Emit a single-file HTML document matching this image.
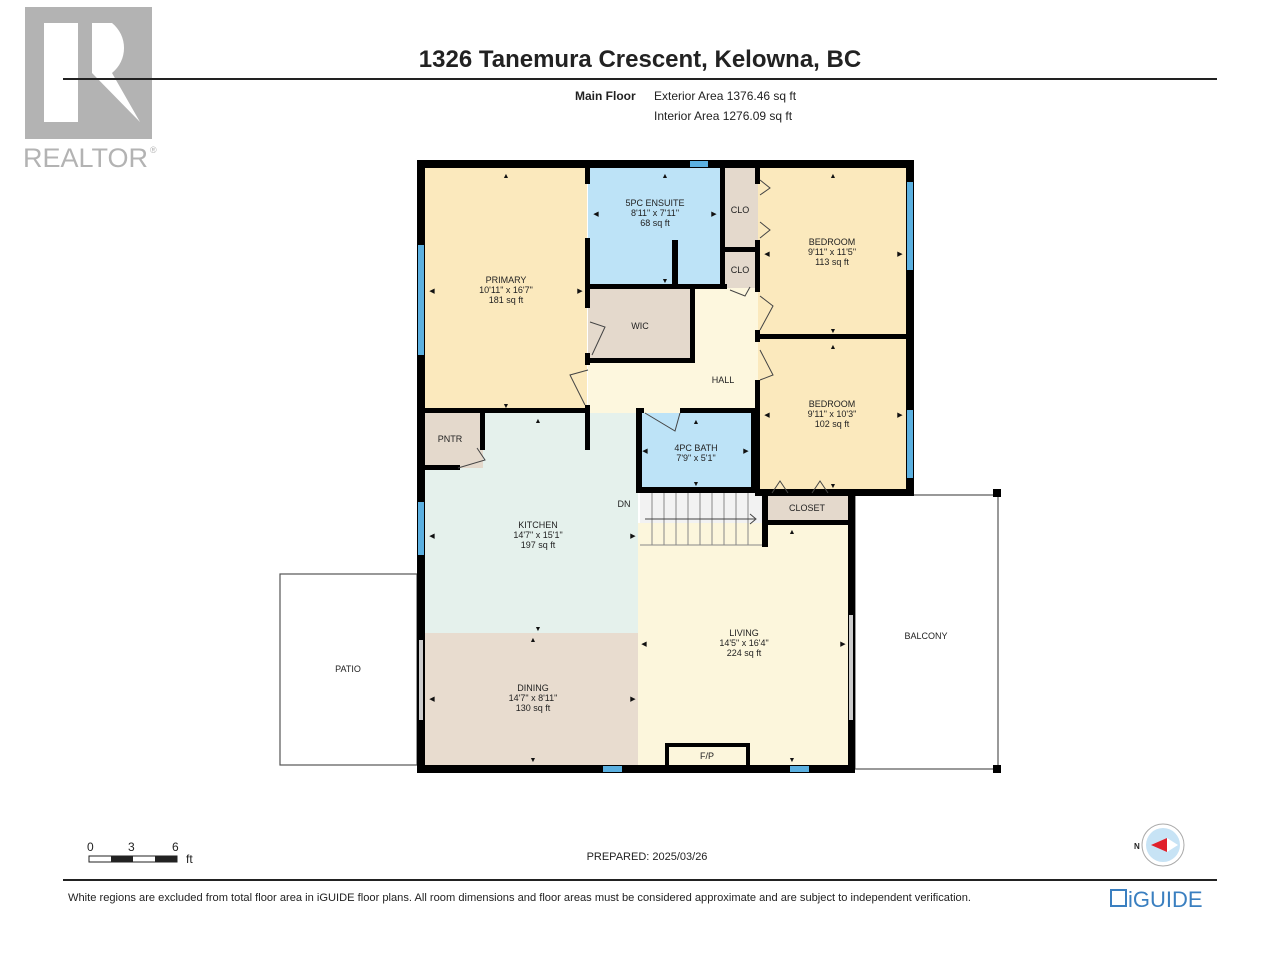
<!DOCTYPE html>
<html><head><meta charset="utf-8"><style>
html,body{margin:0;padding:0;background:#fff;}
body{width:1280px;height:960px;overflow:hidden;position:relative;font-family:"Liberation Sans",sans-serif;}
</style></head><body>
<svg width="1280" height="960" viewBox="0 0 1280 960" xmlns="http://www.w3.org/2000/svg" font-family="Liberation Sans, sans-serif">
<!-- realtor logo -->
<rect x="25" y="7" width="127" height="132" fill="#b3b3b3"/>
<rect x="44" y="23" width="34" height="99" fill="#fff"/>
<path d="M92 23 H112 A32 32 0 0 1 112 73 L140 122 H92 Z" fill="#fff"/>
<path d="M92 73 L140 122 H92 Z" fill="#b3b3b3"/>
<text x="23" y="167" font-size="27" fill="#b3b3b3">REALTOR</text>
<text x="150" y="153" font-size="9" fill="#b3b3b3">®</text>
<!-- header -->
<text x="640" y="67" font-size="24" font-weight="bold" text-anchor="middle" fill="#222">1326 Tanemura Crescent, Kelowna, BC</text>
<rect x="63" y="78" width="1154" height="2" fill="#222"/>
<text x="575" y="100" font-size="12" font-weight="bold" fill="#222">Main Floor</text>
<text x="654" y="100" font-size="12" fill="#222">Exterior Area 1376.46 sq ft</text>
<text x="654" y="120" font-size="12" fill="#222">Interior Area 1276.09 sq ft</text>

<!-- patio/balcony -->
<rect x="280" y="574" width="137" height="191" fill="none" stroke="#555" stroke-width="1.2"/>
<rect x="855" y="495" width="143" height="274" fill="none" stroke="#555" stroke-width="1.2"/>
<rect x="993" y="489" width="8" height="8" fill="#000"/>
<rect x="993" y="765" width="8" height="8" fill="#000"/>

<!-- room fills -->
<rect x="425" y="168" width="162" height="245" fill="#fbe9bd"/>
<rect x="588" y="168" width="134" height="118" fill="#bde3f7"/>
<rect x="722" y="168" width="36" height="120" fill="#e4d9cc"/>
<rect x="758" y="168" width="150" height="325" fill="#fbe9bd"/>
<rect x="588" y="288" width="170" height="162" fill="#fdf7de"/>
<rect x="588" y="288" width="105" height="73" fill="#e4d9cc"/>
<rect x="425" y="413" width="213" height="220" fill="#e5f1ec"/>
<rect x="588" y="450" width="50" height="40" fill="#e5f1ec"/>
<rect x="425" y="413" width="58" height="55" fill="#e4d9cc"/>
<rect x="638" y="413" width="117" height="78" fill="#bde3f7"/>
<rect x="640" y="493" width="125" height="52" fill="#f2f2f2"/>
<rect x="765" y="496" width="85" height="27" fill="#e4d9cc"/>
<rect x="425" y="633" width="213" height="133" fill="#e8dccf"/>
<rect x="638" y="523" width="212" height="243" fill="#fcf6dc"/>
<rect x="638" y="545" width="127" height="10" fill="#fcf6dc"/>

<!-- stairs -->
<g stroke="#888" stroke-width="1">
<line x1="652" y1="493" x2="652" y2="545"/><line x1="664" y1="493" x2="664" y2="545"/>
<line x1="676" y1="493" x2="676" y2="545"/><line x1="688" y1="493" x2="688" y2="545"/>
<line x1="700" y1="493" x2="700" y2="545"/><line x1="712" y1="493" x2="712" y2="545"/>
<line x1="724" y1="493" x2="724" y2="545"/><line x1="736" y1="493" x2="736" y2="545"/>
<line x1="748" y1="493" x2="748" y2="545"/>
<line x1="640" y1="545" x2="765" y2="545"/>
<line x1="645" y1="519" x2="755" y2="519" stroke="#444"/>
<polyline points="750,514 756,519 750,524" fill="none" stroke="#444"/>
</g>

<!-- walls -->
<g fill="#000">
<rect x="417" y="160" width="497" height="8"/>
<rect x="417" y="160" width="8" height="613"/>
<rect x="906" y="160" width="8" height="336"/>
<rect x="417" y="765" width="438" height="8"/>
<rect x="848" y="493" width="7" height="280"/>
<rect x="755" y="489" width="159" height="7"/>
<rect x="585" y="168" width="5" height="16"/>
<rect x="585" y="238" width="5" height="70"/>
<rect x="585" y="353" width="5" height="12"/>
<rect x="585" y="405" width="5" height="45"/>
<rect x="425" y="408" width="165" height="5"/>
<rect x="585" y="284" width="142" height="5"/>
<rect x="690" y="284" width="5" height="78"/>
<rect x="588" y="358" width="107" height="5"/>
<rect x="672" y="240" width="6" height="47"/>
<rect x="720" y="168" width="5" height="120"/>
<rect x="722" y="247" width="36" height="5"/>
<rect x="755" y="168" width="5" height="16"/>
<rect x="755" y="240" width="5" height="52"/>
<rect x="755" y="330" width="5" height="12"/>
<rect x="755" y="380" width="5" height="115"/>
<rect x="760" y="334" width="146" height="5"/>
<rect x="480" y="413" width="5" height="37"/>
<rect x="425" y="465" width="35" height="5"/>
<rect x="636" y="408" width="6" height="85"/>
<rect x="636" y="408" width="8" height="5"/><rect x="680" y="408" width="77" height="5"/>
<rect x="636" y="487" width="120" height="6"/>
<rect x="751" y="408" width="6" height="85"/>
<rect x="762" y="493" width="6" height="54"/>
<rect x="762" y="520" width="93" height="5"/>
<rect x="665" y="743" width="85" height="4"/>
<rect x="665" y="743" width="4" height="22"/>
<rect x="746" y="743" width="4" height="22"/>
</g>
<!-- openings / windows -->
<g>
<rect x="690" y="161" width="18" height="6" fill="#5bb0e0"/>
<rect x="418" y="245" width="6" height="110" fill="#5bb0e0"/>
<rect x="418" y="502" width="6" height="53" fill="#5bb0e0"/>
<rect x="419" y="640" width="4" height="80" fill="#ccc"/>
<rect x="907" y="182" width="6" height="88" fill="#5bb0e0"/>
<rect x="907" y="410" width="6" height="68" fill="#5bb0e0"/>
<rect x="603" y="766" width="19" height="6" fill="#5bb0e0"/>
<rect x="790" y="766" width="19" height="6" fill="#5bb0e0"/>
<rect x="849" y="615" width="4" height="105" fill="#ccc"/>
</g>
<!-- door swings -->
<g fill="none" stroke="#444" stroke-width="1">
<polyline points="590,322 605,327 592,355"/>
<polyline points="588,370 570,375 585,405"/>
<polyline points="760,180 770,188 760,195"/>
<polyline points="760,222 770,230 760,238"/>
<polyline points="760,296 773,306 760,330"/>
<polyline points="760,350 773,375 760,380"/>
<polyline points="730,290 745,296 750,287"/>
<polyline points="645,413 675,431 680,413"/>
<polyline points="458,468 485,460 477,448"/>
<polyline points="772,493 780,481 788,493"/>
<polyline points="812,493 820,481 828,493"/>
</g>

<!-- labels -->
<g font-size="9" fill="#222" text-anchor="middle">
<text x="506" y="283">PRIMARY</text><text x="506" y="293">10'11" x 16'7"</text><text x="506" y="303">181 sq ft</text>
<text x="655" y="206">5PC ENSUITE</text><text x="655" y="216">8'11" x 7'11"</text><text x="655" y="226">68 sq ft</text>
<text x="740" y="213">CLO</text><text x="740" y="273">CLO</text>
<text x="832" y="245">BEDROOM</text><text x="832" y="255">9'11" x 11'5"</text><text x="832" y="265">113 sq ft</text>
<text x="640" y="329">WIC</text>
<text x="723" y="383">HALL</text>
<text x="832" y="407">BEDROOM</text><text x="832" y="417">9'11" x 10'3"</text><text x="832" y="427">102 sq ft</text>
<text x="450" y="442">PNTR</text>
<text x="696" y="451">4PC BATH</text><text x="696" y="461">7'9" x 5'1"</text>
<text x="624" y="507">DN</text>
<text x="807" y="511">CLOSET</text>
<text x="538" y="528">KITCHEN</text><text x="538" y="538">14'7" x 15'1"</text><text x="538" y="548">197 sq ft</text>
<text x="744" y="636">LIVING</text><text x="744" y="646">14'5" x 16'4"</text><text x="744" y="656">224 sq ft</text>
<text x="533" y="691">DINING</text><text x="533" y="701">14'7" x 8'11"</text><text x="533" y="711">130 sq ft</text>
<text x="707" y="759">F/P</text>
<text x="348" y="672">PATIO</text>
<text x="926" y="639">BALCONY</text>
</g>
<!-- dimension arrows -->
<g font-size="7" fill="#111" text-anchor="middle">
<text x="506" y="178">▲</text><text x="506" y="408">▼</text><text x="432" y="293">◀</text><text x="580" y="293">▶</text>
<text x="665" y="178">▲</text><text x="665" y="283">▼</text><text x="596" y="216">◀</text><text x="714" y="216">▶</text>
<text x="833" y="178">▲</text><text x="833" y="333">▼</text><text x="767" y="256">◀</text><text x="900" y="256">▶</text>
<text x="833" y="349">▲</text><text x="833" y="488">▼</text><text x="767" y="417">◀</text><text x="900" y="417">▶</text>
<text x="696" y="424">▲</text><text x="696" y="486">▼</text><text x="645" y="453">◀</text><text x="746" y="453">▶</text>
<text x="538" y="423">▲</text><text x="538" y="631">▼</text><text x="432" y="538">◀</text><text x="633" y="538">▶</text>
<text x="533" y="642">▲</text><text x="533" y="762">▼</text><text x="432" y="701">◀</text><text x="633" y="701">▶</text>
<text x="792" y="534">▲</text><text x="792" y="762">▼</text><text x="644" y="646">◀</text><text x="843" y="646">▶</text>
</g>

<!-- scale -->
<g font-size="12" fill="#222">
<text x="87" y="851">0</text><text x="128" y="851">3</text><text x="172" y="851">6</text>
<text x="186" y="863">ft</text>
</g>
<rect x="89" y="856" width="88" height="6" fill="#fff" stroke="#222" stroke-width="1"/>
<rect x="111" y="856" width="22" height="6" fill="#222"/>
<rect x="155" y="856" width="22" height="6" fill="#222"/>
<text x="647" y="860" font-size="11" text-anchor="middle" fill="#222">PREPARED: 2025/03/26</text>
<!-- compass -->
<circle cx="1163" cy="845" r="21" fill="#fff" stroke="#aaa"/>
<circle cx="1163" cy="845" r="17" fill="#c7e3f5"/>
<polygon points="1151,845 1167,838 1167,852" fill="#e0202a"/>
<polygon points="1167,838 1178,845 1167,852" fill="#fff"/>
<text x="1134" y="849" font-size="8" font-weight="bold" fill="#222">N</text>
<!-- footer -->
<rect x="63" y="879" width="1154" height="2" fill="#222"/>
<text x="68" y="901" font-size="11" textLength="903" lengthAdjust="spacingAndGlyphs" fill="#222">White regions are excluded from total floor area in iGUIDE floor plans. All room dimensions and floor areas must be considered approximate and are subject to independent verification.</text>
<rect x="1111" y="890" width="15" height="16" fill="none" stroke="#3a7fc0" stroke-width="2"/>
<text x="1128" y="907" font-size="22" fill="#3a7fc0">iGUIDE</text>
</svg>
</body></html>
